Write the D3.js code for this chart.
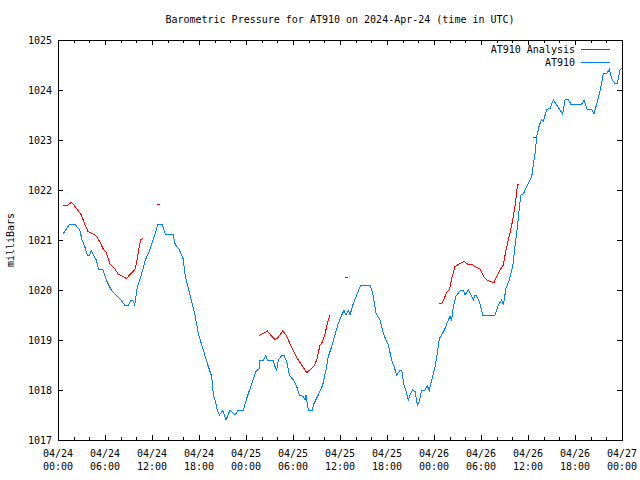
<!DOCTYPE html>
<html>
<head>
<meta charset="utf-8">
<script src="https://cdn.jsdelivr.net/npm/d3@7"></script>
<style>
  html, body { margin: 0; padding: 0; background: #fff; }
  svg { display: block; }
  text { font-family: "DejaVu Sans Mono", "Liberation Mono", monospace; font-size: 10px; fill: #000; }
</style>
</head>
<body>
<svg id="chart" width="640" height="480"></svg>
<script>
// ---- data (hours since 2024-04-24 00:00 UTC) ----
const titleText = "Barometric Pressure for AT910 on 2024-Apr-24 (time in UTC)";
const yLabelText = "milliBars";
const seriesNames = ["AT910 Analysis", "AT910"];
const yTicks = [1017, 1018, 1019, 1020, 1021, 1022, 1023, 1024, 1025];
const xTickHours = [0, 6, 12, 18, 24, 30, 36, 42, 48, 54, 60, 66, 72];

const stationHours = [0.64,1.49,2.13,2.77,3.06,3.41,3.74,4.05,4.25,4.60,4.89,5.20,5.74,6.17,6.80,7.44,7.88,8.52,9.03,9.28,9.57,9.79,10.09,10.63,11.15,11.71,12.35,12.77,13.28,13.70,14.68,14.98,15.41,15.96,16.25,16.81,17.45,17.91,18.55,19.19,19.62,19.83,20.04,20.34,20.59,21.03,21.45,21.96,22.60,23.02,23.66,24.09,24.73,25.28,25.70,25.79,26.21,26.55,26.72,27.49,27.70,27.92,28.12,28.56,28.85,29.20,29.53,30.04,30.47,30.81,31.32,31.53,31.66,31.75,31.95,32.47,32.68,33.23,33.79,34.21,34.51,34.94,35.36,35.78,36.22,36.51,36.77,37.06,37.28,37.70,38.13,38.64,39.83,40.18,40.60,41.11,41.53,42.17,42.60,42.90,43.24,43.66,43.88,44.17,44.52,44.72,44.94,45.28,45.58,45.87,46.12,46.43,46.85,47.15,47.40,47.71,48.13,48.35,48.68,48.98,49.41,49.83,50.04,50.26,50.47,50.81,51.41,51.74,51.96,52.38,52.81,53.02,53.23,53.45,53.87,54.22,55.79,56.21,56.64,56.85,57.19,57.62,58.05,58.34,58.69,59.07,59.41,59.84,60.48,60.68,60.90,61.12,61.45,61.75,61.96,62.39,62.81,63.23,63.67,64.09,64.43,64.73,65.15,65.46,66.86,67.15,67.57,68.13,68.43,68.85,69.19,69.61,70.05,70.38,70.68,71.11,71.40,71.75,72.00];
const stationValues = [1021.12,1021.32,1021.32,1021.20,1021.01,1020.87,1020.70,1020.70,1020.79,1020.68,1020.60,1020.41,1020.40,1020.20,1020.00,1019.90,1019.83,1019.70,1019.70,1019.79,1019.79,1019.70,1020.03,1020.30,1020.60,1020.80,1021.10,1021.32,1021.32,1021.12,1021.12,1020.90,1020.83,1020.63,1020.27,1019.93,1019.53,1019.13,1018.80,1018.47,1018.27,1017.90,1017.80,1017.60,1017.50,1017.59,1017.40,1017.60,1017.50,1017.60,1017.60,1017.83,1018.13,1018.37,1018.43,1018.60,1018.60,1018.69,1018.60,1018.60,1018.47,1018.40,1018.60,1018.69,1018.69,1018.57,1018.30,1018.20,1018.07,1017.90,1017.87,1017.80,1017.90,1017.80,1017.60,1017.60,1017.73,1017.90,1018.10,1018.40,1018.67,1018.87,1019.10,1019.33,1019.50,1019.59,1019.50,1019.59,1019.50,1019.73,1019.90,1020.10,1020.10,1019.93,1019.53,1019.40,1019.13,1018.90,1018.60,1018.47,1018.30,1018.39,1018.39,1018.10,1017.93,1017.80,1017.90,1018.00,1017.97,1017.70,1017.77,1018.00,1018.00,1018.08,1017.99,1018.20,1018.47,1018.67,1019.03,1019.10,1019.23,1019.40,1019.47,1019.40,1019.67,1019.88,1020.00,1020.00,1019.90,1020.00,1019.87,1019.80,1019.90,1019.88,1019.73,1019.50,1019.50,1019.70,1019.80,1019.70,1020.03,1020.20,1020.47,1020.87,1021.33,1021.90,1021.92,1022.07,1022.27,1022.50,1022.73,1023.07,1023.30,1023.41,1023.37,1023.61,1023.63,1023.80,1023.70,1023.60,1023.52,1023.81,1023.81,1023.72,1023.72,1023.80,1023.61,1023.61,1023.52,1023.77,1023.97,1024.32,1024.33,1024.41,1024.23,1024.12,1024.13,1024.40,1024.44];

// analysis series; null marks a gap
const analysisHours = [0.64,1.28,1.70,2.04,2.55,2.97,3.41,3.83,4.47,4.89,5.32,5.74,6.17,6.60,7.24,7.66,8.30,8.72,9.15,9.79,10.00,10.30,10.56,10.85,null,12.64,12.96,null,25.66,26.21,26.72,27.15,27.70,28.00,28.69,29.11,29.84,30.55,31.11,31.75,32.17,32.68,33.03,33.45,33.79,34.09,34.51,34.73,null,36.64,36.96,null,48.68,48.98,49.41,49.70,49.96,50.26,50.68,51.10,51.54,51.83,52.38,52.94,53.45,53.87,54.30,54.73,55.24,55.66,56.01,56.43,56.85,57.19,57.49,57.79,58.05,58.34,58.56,58.69,58.90,null,60.64,60.96];
const analysisValues = [1021.68,1021.70,1021.75,1021.70,1021.59,1021.50,1021.32,1021.17,1021.12,1021.08,1020.97,1020.83,1020.75,1020.53,1020.43,1020.32,1020.27,1020.23,1020.30,1020.40,1020.53,1020.80,1021.01,1021.03,null,1021.72,1021.72,null,1019.09,1019.13,1019.18,1019.10,1019.01,1019.03,1019.18,1019.10,1018.85,1018.63,1018.50,1018.35,1018.40,1018.48,1018.60,1018.90,1018.97,1019.13,1019.40,1019.50,null,1020.25,1020.25,null,1019.73,1019.73,1019.87,1019.97,1020.00,1020.23,1020.47,1020.51,1020.55,1020.57,1020.51,1020.50,1020.45,1020.42,1020.28,1020.20,1020.17,1020.15,1020.27,1020.40,1020.50,1020.80,1021.00,1021.20,1021.40,1021.67,1021.97,1022.12,1022.12,null,1023.05,1023.05];

// ---- drawing ----
(function () {
const base = Date.UTC(2024, 3, 24, 0, 0, 0);
const toDate = h => new Date(base + h * 3600 * 1000);

const mLeft = 58, mRight = 622, mTop = 40, mBottom = 440;
const svg = d3.select("#chart");

const x = d3.scaleUtc().domain([toDate(0), toDate(72)]).range([mLeft, mRight]);
const y = d3.scaleLinear().domain([1017, 1025]).range([mBottom, mTop]);

const fmtDay = d3.utcFormat("%m/%d");
const fmtTime = d3.utcFormat("%H:%M");

// minor ticks every 2 hours
const minorDates = d3.utcHour.every(2).range(toDate(0), toDate(72.01));
const majorDates = xTickHours.map(toDate);

const g = svg.append("g").attr("shape-rendering", "crispEdges");

// x ticks bottom & top
g.selectAll(".xminb").data(minorDates).join("line")
  .attr("x1", d => Math.round(x(d)) + 0.5).attr("x2", d => Math.round(x(d)) + 0.5)
  .attr("y1", mBottom).attr("y2", mBottom - 3).attr("stroke", "#000");
g.selectAll(".xmint").data(minorDates).join("line")
  .attr("x1", d => Math.round(x(d)) + 0.5).attr("x2", d => Math.round(x(d)) + 0.5)
  .attr("y1", mTop).attr("y2", mTop + 3).attr("stroke", "#000");
majorDates.forEach(d => {
  const px = Math.round(x(d)) + 0.5;
  g.append("line").attr("x1", px).attr("x2", px).attr("y1", mBottom).attr("y2", mBottom - 5).attr("stroke", "#000");
  g.append("line").attr("x1", px).attr("x2", px).attr("y1", mTop).attr("y2", mTop + 5).attr("stroke", "#000");
});

// y ticks left & right
yTicks.forEach(v => {
  const py = Math.round(y(v)) + 0.5;
  g.append("line").attr("x1", mLeft).attr("x2", mLeft + 5).attr("y1", py).attr("y2", py).attr("stroke", "#000");
  g.append("line").attr("x1", mRight).attr("x2", mRight - 5).attr("y1", py).attr("y2", py).attr("stroke", "#000");
});

// frame
g.append("rect").attr("x", mLeft + 0.5).attr("y", mTop + 0.5)
  .attr("width", mRight - mLeft).attr("height", mBottom - mTop)
  .attr("fill", "none").attr("stroke", "#000");

// y tick labels
svg.selectAll(".ylab").data(yTicks).join("text")
  .attr("x", mLeft - 6).attr("y", d => y(d) + 4)
  .attr("text-anchor", "end").text(d => d);

// x tick labels
const xl = svg.selectAll(".xlab").data(majorDates).join("text")
  .attr("text-anchor", "middle");
xl.append("tspan").attr("x", d => x(d)).attr("y", 457).text(d => fmtDay(d));
xl.append("tspan").attr("x", d => x(d)).attr("y", 470).text(d => fmtTime(d));

// title
svg.append("text").attr("x", 340).attr("y", 23).attr("text-anchor", "middle").text(titleText);

// y label
svg.append("text").attr("transform", "translate(14,240) rotate(-90)")
  .attr("text-anchor", "middle").text(yLabelText);

// lines
const lineGen = d3.line()
  .defined(d => d.v !== null)
  .x(d => x(toDate(d.h)))
  .y(d => y(d.v));

const stationData = stationHours.map((h, i) => ({ h, v: stationValues[i] }));
const analysisData = analysisHours.map((h, i) => ({ h, v: analysisValues[i] }));

svg.append("path").datum(analysisData)
  .attr("d", lineGen).attr("fill", "none").attr("stroke", "#ff0000")
  .attr("stroke-width", 1).attr("shape-rendering", "crispEdges");

svg.append("path").datum(stationData)
  .attr("d", lineGen).attr("fill", "none").attr("stroke", "#0080ff")
  .attr("stroke-width", 1).attr("shape-rendering", "crispEdges");

// legend
const legendColors = ["#ff0000", "#0080ff"];
seriesNames.forEach((name, i) => {
  const ly = 49 + i * 13;
  svg.append("text").attr("x", 575).attr("y", ly + 4).attr("text-anchor", "end").text(name);
  svg.append("line").attr("x1", 581).attr("x2", 610).attr("y1", ly + 0.5).attr("y2", ly + 0.5)
    .attr("stroke", legendColors[i]).attr("shape-rendering", "crispEdges");
});
})();
</script>
</body>
</html>
